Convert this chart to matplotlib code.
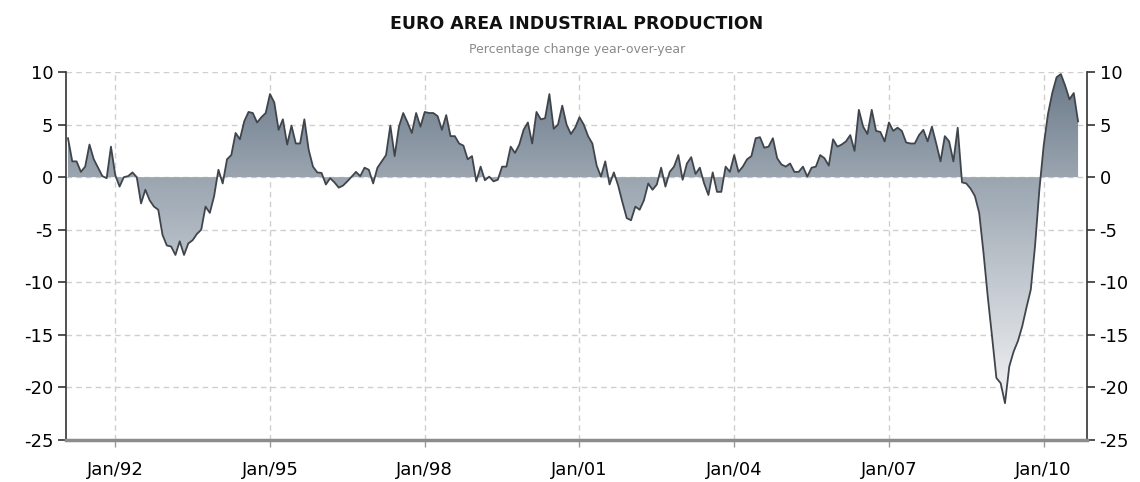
import matplotlib
matplotlib.use("Agg")
import matplotlib.pyplot as plt
import numpy as np
from matplotlib.colors import LinearSegmentedColormap

plt.rcParams["axes.unicode_minus"] = False

# Euro area industrial production, % change y/y, monthly from Feb 1991
start_year = 1991
start_month = 2
ip_yoy = [
    3.7, 1.5, 1.5, 0.5, 1.0, 3.1, 1.7, 0.9, 0.1, -0.1, 2.9,          # 1991 (Feb-Dec)
    0.2, -0.9, 0.0, 0.1, 0.45, 0.0, -2.5, -1.2, -2.2, -2.8, -3.1, -5.5,  # 1992
    -6.5, -6.6, -7.4, -6.1, -7.4, -6.3, -6.0, -5.4, -5.0, -2.8, -3.4, -1.8,  # 1993
    0.7, -0.6, 1.7, 2.1, 4.2, 3.6, 5.3, 6.2, 6.1, 5.2, 5.7, 6.1,   # 1994
    7.9, 7.1, 4.5, 5.5, 3.1, 4.9, 3.2, 3.2, 5.5, 2.6, 1.0, 0.45,   # 1995
    0.4, -0.7, -0.1, -0.5, -1.0, -0.8, -0.4, 0.05, 0.5, 0.1, 0.9, 0.7,  # 1996
    -0.6, 0.9, 1.5, 2.1, 4.9, 2.0, 4.8, 6.1, 5.2, 4.2, 6.1, 4.8,   # 1997
    6.2, 6.1, 6.1, 5.8, 4.5, 5.9, 3.9, 3.9, 3.2, 3.0, 1.7, 2.0,    # 1998
    -0.4, 1.0, -0.3, 0.05, -0.4, -0.25, 1.0, 1.0, 2.9, 2.3, 3.1, 4.5,  # 1999
    5.2, 3.2, 6.2, 5.5, 5.6, 7.9, 4.6, 5.0, 6.8, 5.0, 4.1, 4.7,    # 2000
    5.7, 5.0, 3.9, 3.2, 1.1, 0.05, 1.5, -0.7, 0.45, -0.8, -2.4, -3.9,  # 2001
    -4.1, -2.8, -3.1, -2.2, -0.6, -1.2, -0.7, 0.9, -0.9, 0.5, 1.0, 2.1,  # 2002
    -0.25, 1.3, 1.9, 0.3, 0.9, -0.6, -1.7, 0.45, -1.4, -1.4, 1.0, 0.5,  # 2003
    2.1, 0.5, 1.0, 1.7, 2.0, 3.7, 3.8, 2.8, 2.9, 3.7, 1.8, 1.2,    # 2004
    1.0, 1.3, 0.5, 0.5, 1.0, 0.05, 0.9, 1.0, 2.1, 1.8, 1.1, 3.6,   # 2005
    2.9, 3.1, 3.4, 4.0, 2.5, 6.4, 4.8, 4.1, 6.4, 4.4, 4.3, 3.4,    # 2006
    5.2, 4.4, 4.7, 4.4, 3.3, 3.2, 3.2, 4.0, 4.5, 3.4, 4.8, 3.2,    # 2007
    1.5, 3.9, 3.4, 1.5, 4.7, -0.5, -0.6, -1.1, -1.8, -3.4, -7.2, -11.4,  # 2008
    -15.2, -19.1, -19.6, -21.5, -18.0, -16.6, -15.6, -14.2, -12.4, -10.7, -6.5, -1.2,  # 2009
    3.0, 6.0, 8.0, 9.5, 9.8, 8.7, 7.4, 8.0, 5.3,                   # 2010
]
tick_years = [1992, 1995, 1998, 2001, 2004, 2007, 2010]
tick_labels = ["Jan/92", "Jan/95", "Jan/98", "Jan/01", "Jan/04", "Jan/07", "Jan/10"]
y_ticks = [10, 5, 0, -5, -10, -15, -20, -25]

t = start_year + (start_month - 1) / 12 + np.arange(len(ip_yoy)) / 12
v = np.array(ip_yoy)

fig = plt.figure(figsize=(11.4, 4.82), dpi=100)
ax = fig.add_axes([66 / 1140, 1 - 440 / 482, (1087 - 66) / 1140, (440 - 72) / 482])

x0, x1 = 1991.045, 2010.84
y0, y1 = -25, 10
g_lo, g_hi = -22, 10

# gradient fill clipped to the area between curve and zero
poly = ax.fill_between(t, v, 0, color="none", lw=0)
zero_pos = (0 - g_lo) / (g_hi - g_lo)
cmap = LinearSegmentedColormap.from_list(
    "slate", [(0, "#f3f4f6"), (zero_pos, "#9aa5b0"), (1, "#6a7888")])
grad = np.linspace(0, 1, 256).reshape(-1, 1)
img = ax.imshow(grad, cmap=cmap, aspect="auto", origin="lower",
                extent=[x0, x1, g_lo, g_hi], zorder=2)
img.set_clip_path(poly.get_paths()[0], transform=ax.transData)

ax.plot(t, v, color="#40454c", lw=1.3, zorder=3)

ax.set_xlim(x0, x1)
ax.set_ylim(y0, y1)
ax.set_xticks(tick_years)
ax.set_xticklabels(tick_labels)
ax.set_yticks(y_ticks)

ax.grid(True, color="#cfcfcf", linestyle=(0, (4, 3)), lw=1, zorder=1)
ax.set_axisbelow(True)

ax.spines["top"].set_visible(False)
ax.spines["left"].set_color("#333333")
ax.spines["right"].set_color("#333333")
ax.spines["left"].set_linewidth(1.2)
ax.spines["right"].set_linewidth(1.2)
ax.spines["bottom"].set_color("#8c8c8c")
ax.spines["bottom"].set_linewidth(2.5)

ax.tick_params(axis="y", which="both", left=True, right=True, labelleft=True,
               labelright=True, direction="out", length=6, width=1.2,
               color="#333333", labelsize=13, pad=3)
ax.tick_params(axis="x", direction="out", length=5, width=1, color="#999999",
               labelsize=13, pad=10)

fig.text(577 / 1140, 1 - 24 / 482, "EURO AREA INDUSTRIAL PRODUCTION",
         ha="center", va="center", fontsize=12.5, fontweight="bold", color="#111111")
fig.text(577 / 1140, 1 - 50 / 482, "Percentage change year-over-year",
         ha="center", va="center", fontsize=9, color="#8a8a8a")

fig.savefig("out.png", dpi=100)
